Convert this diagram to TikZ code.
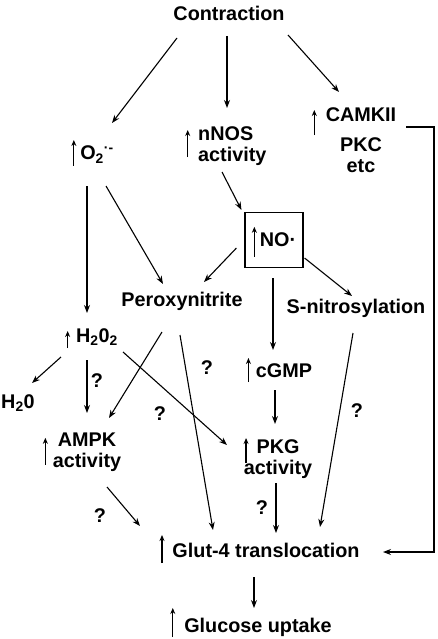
\documentclass[tikz,border=0pt]{standalone}
\usepackage{fontspec}
\setmainfont{Liberation Sans}
\usetikzlibrary{arrows.meta}
\newcommand{\uparr}[2]{\leavevmode\smash{\tikz[baseline=#1]\draw[uparrow] (0,0) -- (0,#2);}}
\newcommand{\uparrl}[3]{\leavevmode\llap{\uparr{#1}{#2}\hspace{#3}}}
\tikzset{
	uparrow/.style={line width=1.3pt, -{Stealth[length=6pt,width=5pt]}},
	arr/.style={line width=1.1pt, -{Stealth[length=8pt,width=6pt]}},
	lbl/.style={inner sep=0pt, font=\bfseries\fontsize{19.8}{21}\selectfont},
}
\begin{document}
\begin{tikzpicture}[x=1pt,y=-1pt]
			\useasboundingbox (0,0) rectangle (438,639);
			\node[lbl, anchor=base] (con) at (229,21) {Contraction};
			\node[lbl, anchor=base] (o2) at (97,160) {\uparrl{6pt}{26pt}{4pt}O\textsubscript{2}\textsuperscript{·-}};
			\node[lbl, anchor=north west, align=left] (nnos) at (198,126) {\uparrl{17pt}{27pt}{8pt}nNOS\\activity};
			\node[lbl, anchor=north, align=center] (cam) at (361,107) {\uparrl{14pt}{25pt}{9pt}CAMKII\\[9pt]PKC\\etc};
			\node[lbl, draw, line width=1.1pt, minimum width=58pt, minimum height=55pt] (no) at (274,240) {\uparr{10pt}{30pt}\hspace{3pt}NO·};
			\node[lbl, anchor=base] (perox) at (182,306) {Peroxynitrite};
			\node[lbl, anchor=base] (snit) at (356,313) {S-nitrosylation};
			\node[lbl, anchor=base] (h2o2) at (97,342) {\uparrl{6pt}{17pt}{6pt}H\textsubscript{2}0\textsubscript{2}};
			\node[lbl, anchor=base] (h2o) at (18,408) {H\textsubscript{2}0};
			\node[lbl, anchor=base] (cgmp) at (284,377) {\uparrl{5pt}{24pt}{5pt}cGMP};
			\node[lbl, anchor=north, align=center] (ampk) at (87,433) {\uparrl{18pt}{27pt}{10pt}AMPK\\activity};
			\node[lbl, anchor=north, align=center] (pkg) at (278,439) {\uparrl{10pt}{25pt}{8pt}PKG\\activity};
			\node[lbl, anchor=base] (glut) at (266,557) {\uparrl{6pt}{28pt}{8pt}Glut-4 translocation};
			\node[lbl, anchor=base] (gluc) at (258,632) {\uparrl{5pt}{29pt}{9pt}Glucose uptake};
			\node[lbl, anchor=base] (q1) at (207,374) {?};
			\node[lbl, anchor=base] (q2) at (97,387) {?};
			\node[lbl, anchor=base] (q3) at (160,420) {?};
			\node[lbl, anchor=base] (q4) at (357,417) {?};
			\node[lbl, anchor=base] (q5) at (262,514) {?};
			\node[lbl, anchor=base] (q6) at (100,522) {?};
			\draw[arr] ([shift={(-52,17)}]con.base) -- ([shift={(15,-37)}]o2.base);
			\draw[arr] ([shift={(-2,15)}]con.base) -- ([shift={(29,-18)}]nnos.north west);
			\draw[arr] ([shift={(59,14)}]con.base) -- ([shift={(-22,-15)}]cam.north);
			\draw[arr] ([shift={(45,20)}]cam.north) -- ++(28,0) |- ([shift={(117,-5)}]glut.base);
			\draw[arr] ([shift={(-10,26)}]o2.base) -- ([shift={(-10,-29)}]h2o2.base);
			\draw[arr] ([shift={(9,26)}]o2.base) -- ([shift={(-19,-22)}]perox.base);
			\draw[arr] ([shift={(24,46)}]nnos.north west) -- ([shift={(-3,-2)}]no.north west);
			\draw[arr] ([shift={(-8,8)}]no.west) -- ([shift={(22,-24)}]perox.base);
			\draw[arr] ([shift={(1,18)}]no.east) -- ([shift={(-4,-17)}]snit.base);
			\draw[arr] ([shift={(-1,10)}]no.south) -- ([shift={(-11,-27)}]cgmp.base);
			\draw[arr] ([shift={(-20,26)}]perox.base) -- ([shift={(22,-15)}]ampk.north);
			\draw[arr] ([shift={(-2,29)}]perox.base) -- ([shift={(-53,-27)}]glut.base);
			\draw[arr] ([shift={(-36,15)}]h2o2.base) -- ([shift={(14,-25)}]h2o.base);
			\draw[arr] ([shift={(-10,18)}]h2o2.base) -- ([shift={(0,-20)}]ampk.north);
			\draw[arr] ([shift={(26,10)}]h2o2.base) -- ([shift={(-51,6)}]pkg.north);
			\draw[arr] ([shift={(-9,13)}]cgmp.base) -- ([shift={(-3,-15)}]pkg.north);
			\draw[arr] ([shift={(-3,20)}]snit.base) -- ([shift={(54,-30)}]glut.base);
			\draw[arr] ([shift={(20,54)}]ampk.north) -- ([shift={(-126,-31)}]glut.base);
			\draw[arr] ([shift={(-2,44)}]pkg.north) -- ([shift={(10,-24)}]glut.base);
			\draw[arr] ([shift={(-12,20)}]glut.base) -- ([shift={(-4,-24)}]gluc.base);
		\end{tikzpicture}
\end{document}
